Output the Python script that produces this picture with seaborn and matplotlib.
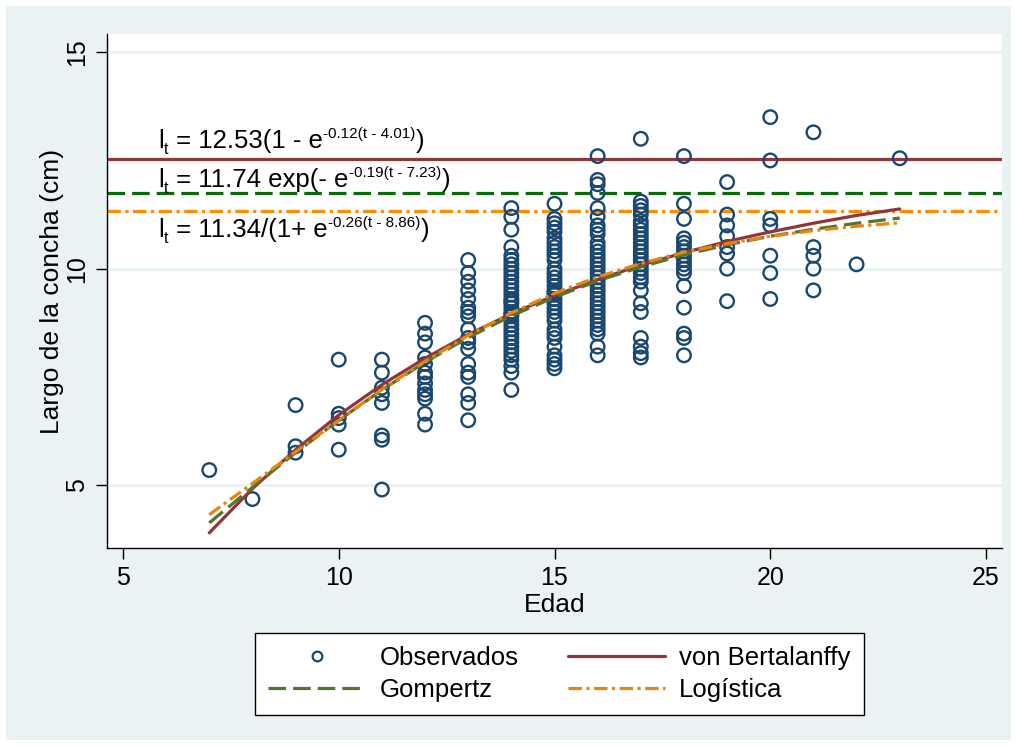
import numpy as np
import pandas as pd
import matplotlib
matplotlib.use("Agg")
import matplotlib.pyplot as plt
import seaborn as sns
from matplotlib.lines import Line2D
from matplotlib.patches import Rectangle

# ---------------- data ----------------
len_7 = [5.35]
len_8 = [4.68]
len_9 = [6.85, 5.9, 5.75]
len_10 = [7.9, 6.65, 6.55, 6.4, 5.82]
len_11 = [7.9, 7.6, 7.25, 7.1, 6.9, 6.15, 6.05, 4.9]
len_12 = [8.75, 8.5, 8.3, 7.95, 7.8, 7.6, 7.5, 7.35, 7.2, 7.1, 7.0, 6.65, 6.4]
len_13 = [10.2, 9.9, 9.7, 9.5, 9.3, 9.1, 9.0, 8.9, 8.6, 8.4, 8.3, 8.15,
          7.8, 7.6, 7.5, 7.1, 6.9, 6.5]
len_14 = [11.4, 11.2, 10.9, 10.5, 10.3, 10.2, 10.1, 10.0, 9.9, 9.8, 9.7,
          9.6, 9.5, 9.4, 9.3, 9.25, 9.2, 9.1, 9.0, 8.95, 8.9, 8.8, 8.7,
          8.6, 8.5, 8.4, 8.3, 8.2, 8.1, 8.0, 7.9, 7.75, 7.6, 7.2]
len_15 = [11.5, 11.15, 11.05, 10.95, 10.85, 10.7, 10.6, 10.5, 10.4, 10.3,
          10.2, 10.0, 9.9, 9.8, 9.7, 9.6, 9.5, 9.45, 9.4, 9.3, 9.2, 9.1,
          9.0, 8.9, 8.8, 8.6, 8.5, 8.4, 8.2, 8.0, 7.9, 7.8, 7.7]
len_16 = [12.6, 12.05, 11.95, 11.75, 11.4, 11.2, 11.0, 10.9, 10.8, 10.6,
          10.5, 10.4, 10.3, 10.2, 10.1, 10.0, 9.9, 9.8, 9.7, 9.6, 9.5, 9.4,
          9.3, 9.2, 9.1, 9.0, 8.9, 8.8, 8.7, 8.6, 8.5, 8.2, 8.0]
len_17 = [13.0, 11.55, 11.45, 11.35, 11.25, 11.1, 11.0, 10.9, 10.8, 10.7,
          10.6, 10.5, 10.4, 10.3, 10.2, 10.1, 10.0, 9.9, 9.8, 9.7, 9.5, 9.2,
          9.0, 8.4, 8.2, 8.05, 7.95]
len_18 = [12.6, 11.5, 11.15, 10.7, 10.6, 10.5, 10.4, 10.3, 10.2, 10.1,
          10.0, 9.9, 9.6, 9.1, 8.5, 8.4, 8.0]
len_19 = [12.0, 11.25, 11.0, 10.75, 10.5, 10.35, 10.0, 9.25]
len_20 = [13.5, 12.5, 11.15, 11.0, 10.3, 9.9, 9.3]
len_21 = [13.15, 10.5, 10.3, 10.0, 9.5]
len_22 = [10.1]
len_23 = [12.55]

fit_ages = [7, 8, 9, 10, 11, 12, 13, 14, 15, 16, 17, 18, 19, 20, 21, 22, 23]
vb_fit = [3.90, 4.92, 5.82, 6.62, 7.32, 7.93, 8.48, 8.96, 9.38, 9.75,
          10.08, 10.37, 10.63, 10.85, 11.05, 11.23, 11.38]
gom_fit = [4.13, 4.95, 5.75, 6.50, 7.20, 7.84, 8.41, 8.91, 9.34, 9.72,
           10.04, 10.32, 10.55, 10.75, 10.91, 11.05, 11.17]
log_fit = [4.32, 5.04, 5.77, 6.50, 7.21, 7.86, 8.46, 8.98, 9.43, 9.81,
           10.12, 10.38, 10.58, 10.75, 10.88, 10.98, 11.06]

asym_vb = 12.53
asym_gom = 11.74
asym_log = 11.34

# equation pieces: (text, kind) with kind main / sub / sup
eq_vb = [("l", "main"), ("t", "sub"), (" = 12.53(1 - e", "main"),
         ("-0.12(t - 4.01)", "sup"), (")", "main")]
eq_gom = [("l", "main"), ("t", "sub"), (" = 11.74 exp(- e", "main"),
          ("-0.19(t - 7.23)", "sup"), (")", "main")]
eq_log = [("l", "main"), ("t", "sub"), (" = 11.34/(1+ e", "main"),
          ("-0.26(t - 8.86)", "sup"), (")", "main")]

legend_labels = ["Observados", "von Bertalanffy", "Gompertz", "Logística"]

# ---------------- build tables ----------------
obs_lists = [len_7, len_8, len_9, len_10, len_11, len_12, len_13, len_14,
             len_15, len_16, len_17, len_18, len_19, len_20, len_21, len_22,
             len_23]
rows = []
for age, vals in zip(fit_ages, obs_lists):
    for v in vals:
        rows.append((age, v))
obs = pd.DataFrame(rows, columns=["Edad", "Largo"])
fits = pd.DataFrame({"Edad": fit_ages, "vb": vb_fit, "gom": gom_fit, "log": log_fit})

# ---------------- style ----------------
sns.set_theme(style="white")
plt.rcParams["font.family"] = ["Liberation Sans", "DejaVu Sans"]
plt.rcParams["text.color"] = "black"
plt.rcParams["axes.labelcolor"] = "black"
plt.rcParams["xtick.color"] = "black"
plt.rcParams["ytick.color"] = "black"

BG = "#EAF2F3"
NAVY = "#1A476F"
MAROON = "#90353B"
OLIVE = "#55752F"
DKGREEN = "#0B6B0B"
ORANGE = "#E8850C"
ORANGE_H = "#FF8C00"
DASH = (0, (5.5, 2.2))
DASHDOT = (0, (4.2, 1.4, 1.0, 1.4))

fig = plt.figure(figsize=(10.17, 7.46), dpi=100)
fig.patch.set_facecolor("white")
fig.patches.append(Rectangle((6 / 1017, 6 / 746), 1 - 12 / 1017, 1 - 12 / 746,
                             transform=fig.transFigure, facecolor=BG,
                             edgecolor="none", zorder=-10))
ax = fig.add_axes([107 / 1017, 1 - 548 / 746, (1002 - 107) / 1017, (548 - 34) / 746])
ax.set_facecolor("white")

ax.set_xlim(4.63, 25.37)
ax.set_ylim(3.55, 15.42)
ax.set_xticks([5, 10, 15, 20, 25])
ax.set_yticks([5, 10, 15])
for yv in [5, 10, 15]:
    ax.axhline(yv, color=BG, lw=2, zorder=0)

lw = 2.3
# horizontal asymptotes
ax.axhline(asym_vb, color=MAROON, lw=lw, zorder=2)
ax.axhline(asym_gom, color=DKGREEN, lw=lw, linestyle=DASH, zorder=2)
ax.axhline(asym_log, color=ORANGE_H, lw=lw, linestyle=DASHDOT, zorder=2)

# observations
sns.scatterplot(data=obs, x="Edad", y="Largo", ax=ax, marker="o", s=95,
                facecolor="none", edgecolor=NAVY, linewidth=1.7, zorder=3,
                legend=False)

# fitted curves
sns.lineplot(data=fits, x="Edad", y="vb", ax=ax, color=MAROON, lw=lw, zorder=4)
sns.lineplot(data=fits, x="Edad", y="gom", ax=ax, color=OLIVE, lw=lw,
             linestyle=DASH, zorder=4)
sns.lineplot(data=fits, x="Edad", y="log", ax=ax, color=ORANGE, lw=lw,
             linestyle=DASHDOT, zorder=4)

# equations, composed piece by piece
SIZES = {"main": (18.5, 0.0), "sub": (11.5, -4.0), "sup": (11.0, 7.5)}


def draw_eq(x, y, pieces):
    fs, _ = SIZES[pieces[0][1]]
    prev = ax.text(x, y, pieces[0][0], fontsize=fs, va="baseline", ha="left",
                   color="black", zorder=5)
    for txt, kind in pieces[1:]:
        fs, dy = SIZES[kind]
        prev = ax.annotate(txt, xy=(1, y), xycoords=(prev, "data"),
                           xytext=(0.3, dy), textcoords="offset points",
                           fontsize=fs, va="baseline", ha="left",
                           color="black", zorder=5)


draw_eq(5.81, 12.78, eq_vb)
draw_eq(5.81, 11.88, eq_gom)
draw_eq(5.81, 10.73, eq_log)

# axes styling
for s in ["top", "right"]:
    ax.spines[s].set_visible(False)
for s in ["left", "bottom"]:
    ax.spines[s].set_color("black")
    ax.spines[s].set_linewidth(1.0)
ax.tick_params(axis="both", direction="out", length=8, width=1.0, color="black",
               labelcolor="black", labelsize=18, left=True, bottom=True, pad=5)
for lab in ax.get_yticklabels():
    lab.set_rotation(90)
    lab.set_va("center")
ax.set_xlabel("Edad", fontsize=19, labelpad=2, color="black")
ax.set_ylabel("Largo de la concha (cm)", fontsize=19, labelpad=1, color="black")
ax.grid(False)

# legend
h_obs = Line2D([], [], marker="o", linestyle="none", markersize=7,
               markerfacecolor="none", markeredgecolor=NAVY, markeredgewidth=1.6)
h_vb = Line2D([], [], color=MAROON, lw=lw)
h_gom = Line2D([], [], color=OLIVE, lw=lw, linestyle=DASH)
h_log = Line2D([], [], color=ORANGE, lw=lw, linestyle=DASHDOT)
leg = fig.legend([h_obs, h_gom, h_vb, h_log],
                 [legend_labels[0], legend_labels[2], legend_labels[1], legend_labels[3]],
                 ncol=2, loc="center", bbox_to_anchor=(0.55, 0.0965),
                 fontsize=18.5, frameon=True, fancybox=False, framealpha=1.0,
                 handlelength=3.8, handletextpad=0.55, columnspacing=1.9,
                 borderpad=0.5, labelspacing=0.3, borderaxespad=0)
leg.get_frame().set_edgecolor("black")
leg.get_frame().set_linewidth(1.0)
leg.get_frame().set_facecolor("white")
for t in leg.get_texts():
    t.set_color("black")

fig.savefig("out.png", dpi=100, facecolor=fig.get_facecolor())
